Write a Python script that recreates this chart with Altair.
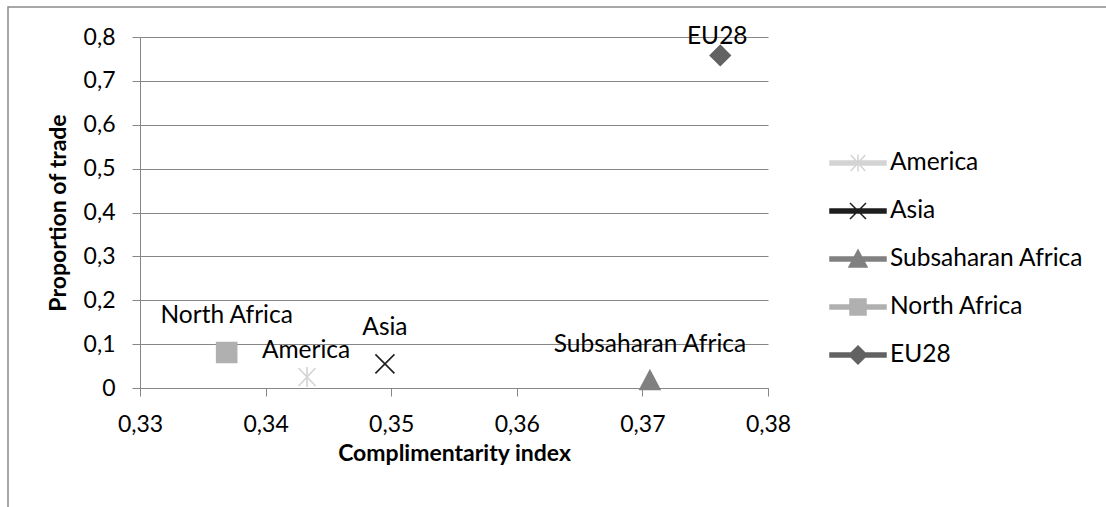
import altair as alt
import pandas as pd

# Regions and their values
series = ["America", "Asia", "Subsaharan Africa", "North Africa", "EU28"]
complementarity = [0.3433, 0.3495, 0.3706, 0.3369, 0.3762]
trade_share = [0.025, 0.055, 0.017, 0.081, 0.758]

x_ticks = [0.33, 0.34, 0.35, 0.36, 0.37, 0.38]
y_ticks = [0, 0.1, 0.2, 0.3, 0.4, 0.5, 0.6, 0.7, 0.8]

# Styling per series (same order as `series`)
colors = ["#d4d4d4", "#1e1e1e", "#808080", "#b0b0b0", "#626262"]
marker_paths = [
    "M-0.85,-0.9L0.85,0.9M-0.85,0.9L0.85,-0.9M0,-1V1",  # star
    "M-0.95,-0.95L0.95,0.95M-0.95,0.95L0.95,-0.95",     # x
    "M0,-1L1,0.9L-1,0.9Z",                              # triangle
    "M-1,-1H1V1H-1Z",                                   # square
    "M0,-1L1,0L0,1L-1,0Z",                              # diamond
]
line_path = "M-1.4,-0.1H1.4V0.1H-1.4Z"
legend_paths = [
    line_path + "M-0.36,-0.4L0.36,0.4M-0.36,0.4L0.36,-0.4M0,-0.43V0.43",
    line_path + "M-0.4,-0.4L0.4,0.4M-0.4,0.4L0.4,-0.4",
    line_path + "M0,-0.45L0.45,0.4L-0.45,0.4Z",
    line_path + "M-0.4,-0.4H0.4V0.4H-0.4Z",
    line_path + "M0,-0.45L0.45,0L0,0.45L-0.45,0Z",
]
# Data label placement (dx, dy in pixels) relative to each point
label_offsets = {
    "America": (-1, -26),
    "Asia": (0, -36),
    "Subsaharan Africa": (0, -36),
    "North Africa": (0, -36),
    "EU28": (-3, -18.5),
}

FONT = "Lato"
FS = 23          # axis text
FS_LABEL = 24.5  # data labels and legend
AXIS_GRAY = "#868686"

df = pd.DataFrame({"series": series, "x": complementarity, "y": trade_share})
df["key"] = df["series"]

x_enc = alt.X(
    "x:Q",
    scale=alt.Scale(domain=[0.33, 0.38], nice=False, zero=False),
    axis=alt.Axis(
        values=x_ticks,
        labelExpr="replace(format(datum.value, '.2f'), '.', ',')",
        labelFlush=False,
        title="Complimentarity index",
        grid=False,
        tickSize=8,
        labelPadding=17,
        titleBaseline="middle",
        titleY=65,
    ),
)
y_enc = alt.Y(
    "y:Q",
    scale=alt.Scale(domain=[0, 0.8], nice=False),
    axis=alt.Axis(
        values=y_ticks,
        labelExpr="datum.value == 0 ? '0' : replace(format(datum.value, '.1f'), '.', ',')",
        labelFlush=False,
        title="Proportion of trade",
        grid=True,
        tickSize=8,
        labelPadding=17,
        titleBaseline="middle",
        titleX=-82,
    ),
)

base = alt.Chart(df)

# Outer chart frame
frame = alt.Chart(pd.DataFrame({"f": [0]})).mark_rect(
    fill="transparent", stroke="#8a8a8a", strokeWidth=1.5
).encode(
    x=alt.value(-132), x2=alt.value(1100), y=alt.value(-30), y2=alt.value(600)
)

points = base.mark_point(filled=True, opacity=1, size=400, strokeWidth=1.6).encode(
    x=x_enc,
    y=y_enc,
    shape=alt.Shape("series:N", scale=alt.Scale(domain=series, range=marker_paths), legend=None),
    fill=alt.Fill("series:N", scale=alt.Scale(domain=series, range=colors), legend=None),
    stroke=alt.Stroke("series:N", scale=alt.Scale(domain=series, range=colors), legend=None),
)

# Legend-only layer: no rows are drawn, the scales feed the legend
legend_layer = base.transform_filter("false").mark_point(
    filled=True, opacity=1, size=1600, strokeWidth=1.5
).encode(
    x=x_enc,
    y=y_enc,
    shape=alt.Shape("key:N", scale=alt.Scale(domain=series, range=legend_paths), title=None),
    fill=alt.Fill("key:N", scale=alt.Scale(domain=series, range=colors), title=None),
    stroke=alt.Stroke("key:N", scale=alt.Scale(domain=series, range=colors), title=None),
)

labels = []
for name in series:
    dx, dy = label_offsets[name]
    labels.append(
        base.transform_filter(alt.datum.series == name)
        .mark_text(font=FONT, fontSize=FS_LABEL, color="black", align="center",
                   baseline="middle", dx=dx, dy=dy)
        .encode(x=x_enc, y=y_enc, text="series:N")
    )

chart = (
    alt.layer(frame, points, legend_layer, *labels)
    .resolve_scale(shape="independent", fill="independent", stroke="independent")
    .properties(
        width=628,
        height=351,
        autosize=alt.AutoSizeParams(type="none"),
        padding={"left": 140, "top": 37, "right": 338, "bottom": 119},
        background="white",
    )
    .configure_view(stroke=None)
    .configure_axis(
        labelFont=FONT,
        labelFontSize=FS,
        labelColor="black",
        titleFont=FONT,
        titleFontSize=FS,
        titleFontWeight="bold",
        titleColor="black",
        domainColor=AXIS_GRAY,
        tickColor=AXIS_GRAY,
        gridColor=AXIS_GRAY,
        domainWidth=1,
        tickWidth=1,
        gridWidth=1,
    )
    .configure_legend(
        orient="none",
        legendX=697,
        legendY=105,
        padding=0,
        symbolSize=1600,
        symbolStrokeWidth=1.5,
        labelFont=FONT,
        labelFontSize=FS_LABEL,
        labelColor="black",
        labelOffset=11,
        labelLimit=400,
        rowPadding=15,
        title=None,
    )
)

chart.save("out.html", embed_options={"renderer": "svg", "actions": False})
